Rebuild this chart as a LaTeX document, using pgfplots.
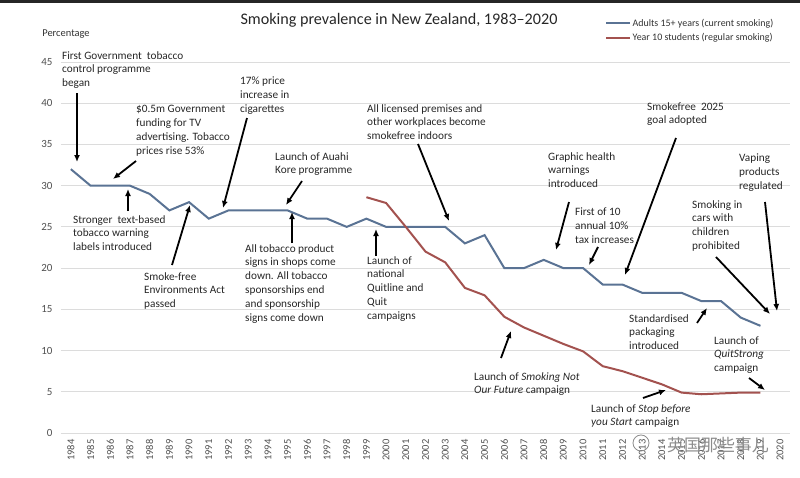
\documentclass[border=0pt]{standalone}
\usepackage{pgfplots}
\pgfplotsset{compat=1.18}
\usetikzlibrary{arrows.meta}
\usepackage{fontspec}
\setmainfont{Carlito}
\newfontfamily\cjk{Noto Sans CJK SC}
\definecolor{adult}{HTML}{5A7394}
\definecolor{youth}{HTML}{A3524F}
\definecolor{gridc}{HTML}{DCDCDC}
\definecolor{tickc}{HTML}{505050}
\newcommand{\annfont}{\fontsize{11.3}{14}\selectfont}
\begin{document}
\begin{tikzpicture}
\path[use as bounding box] (0,0) rectangle (800bp,-478bp);
\fill[black!85] (0,0) rectangle (800bp,-3bp);
\begin{axis}[
  at={(61bp,-433bp)}, anchor=south west,
  scale only axis, width=729bp, height=371bp,
  xmin=1983.5, xmax=2020.5, ymin=0, ymax=45,
  xtick={1984,...,2020}, ytick={0,5,...,45},
  axis line style={draw=none},
  major tick length=0pt,
  ymajorgrids, grid style={gridc, line width=0.9bp},
  x tick label style={rotate=90, anchor=east, font=\fontsize{10.5}{11}\selectfont, text=tickc, /pgf/number format/1000 sep={}},
  xticklabel shift=3bp,
  y tick label style={font=\fontsize{11}{12}\selectfont, text=tickc},
  yticklabel shift=5bp,
  /pgf/number format/assume math mode=true,
  xtick pos=bottom, ytick pos=left,
  legend style={draw=none, fill=none, at={(0.742,1.126)}, anchor=north west,
    font=\fontsize{10}{12}\selectfont, text=black!80, row sep=3bp, nodes={inner sep=1.5pt}},
  legend cell align=left,
  legend image code/.code={\draw[#1] (0bp,0bp) -- (24bp,0bp);},
]
\addplot[adult, line width=2bp] coordinates {
(1984,32) (1985,30) (1986,30) (1987,30) (1988,29) (1989,27) (1990,28) (1991,26)
(1992,27) (1993,27) (1994,27) (1995,27) (1996,26) (1997,26) (1998,25) (1999,26)
(2000,25) (2001,25) (2002,25) (2003,25) (2004,23) (2005,24) (2006,20) (2007,20)
(2008,21) (2009,20) (2010,20) (2011,18) (2012,18) (2013,17) (2014,17) (2015,17)
(2016,16) (2017,16) (2018,14) (2019,13)};
\addlegendentry{Adults 15+ years (current smoking)}
\addplot[youth, line width=2bp] coordinates {
(1999,28.6) (2000,27.9) (2001,25.0) (2002,22.0) (2003,20.7) (2004,17.6) (2005,16.7)
(2006,14.1) (2007,12.8) (2008,11.8) (2009,10.8) (2010,9.9) (2011,8.1) (2012,7.5)
(2013,6.7) (2014,5.9) (2015,4.9) (2016,4.7) (2017,4.8) (2018,4.9) (2019,4.9)};
\addlegendentry{Year 10 students (regular smoking)}
\end{axis}
\begin{scope}[x=1bp,y=-1bp]
\node[font=\fontsize{16.2}{19}\selectfont, text=black!85] at (399,20) {Smoking prevalence in New Zealand, 1983--2020};
\node[font=\fontsize{10.5}{12}\selectfont, text=black!80] at (66,34) {Percentage};
\tikzset{ann/.style={anchor=north west, inner sep=0pt, align=left, font=\annfont, text=black!85},
         arr/.style={line width=1.8bp, -{Latex[length=7bp,width=6bp]}}}
% annotations
\node[ann] at (62,51) {First Government\ \ tobacco\\control programme\\began};
\draw[arr] (77,93) -- (77,162);
\node[ann] at (136,105) {\$0.5m Government\\funding for TV\\advertising. Tobacco\\prices rise 53\%};
\draw[arr] (136,161) -- (113,179);
\node[ann] at (240,77) {17\% price\\increase in\\cigarettes};
\draw[arr] (247,118) -- (223,208);
\node[ann] at (275,152) {Launch of Auahi\\Kore programme};
\draw[arr] (302,181) -- (286,205);
\node[ann] at (367,104) {All licensed premises and\\other workplaces become\\smokefree indoors};
\draw[arr] (418,144) -- (449,221);
\node[ann] at (647,102) {Smokefree\ \ 2025\\goal adopted};
\draw[arr] (676,138) -- (625,275);
\node[ann] at (548,152) {Graphic health\\warnings\\introduced};
\draw[arr] (569,202) -- (556,250);
\node[ann] at (575,208) {First of 10\\annual 10\%\\tax increases};
\draw[arr] (598,247) -- (589,265);
\node[ann] at (739,154) {Vaping\\products\\regulated};
\draw[arr] (765,202) -- (777,311);
\node[ann] at (692,200) {Smoking in\\cars with\\children\\prohibited};
\draw[arr] (716,257) -- (770,314);
\node[ann] at (73,215) {Stronger\ \ text-based\\tobacco warning\\labels introduced};
\draw[arr] (128,211) -- (128,189);
\node[ann] at (144,272) {Smoke-free\\Environments Act\\passed};
\draw[arr] (172,265) -- (190,205);
\node[ann] at (245,244) {All tobacco product\\signs in shops come\\down. All tobacco\\sponsorships end\\and sponsorship\\signs come down};
\draw[arr] (292,243) -- (292,212);
\node[ann] at (367,256) {Launch of\\national\\Quitline and\\Quit\\campaigns};
\draw[arr] (376,256) -- (376,229);
\node[ann] at (474,372) {Launch of \textit{Smoking Not}\\\textit{Our Future} campaign};
\draw[arr] (501,358) -- (511,331);
\node[ann] at (591,404) {Launch of \textit{Stop before}\\\textit{you Start} campaign};
\draw[arr] (643,398) -- (666,390);
\node[ann] at (629,314) {Standardised\\packaging\\introduced};
\draw[arr] (697,323) -- (707,308);
\node[ann] at (714,336) {Launch of\\\textit{QuitStrong}\\campaign};
\draw[arr] (749,378) -- (765,390);
% watermark
\node[font=\cjk\fontsize{17}{18}\selectfont, text=black!45] at (718,445) {英国那些事儿};
\draw[black!45, line width=0.8bp] (641,443) circle (8);
\end{scope}
\end{tikzpicture}
\end{document}
